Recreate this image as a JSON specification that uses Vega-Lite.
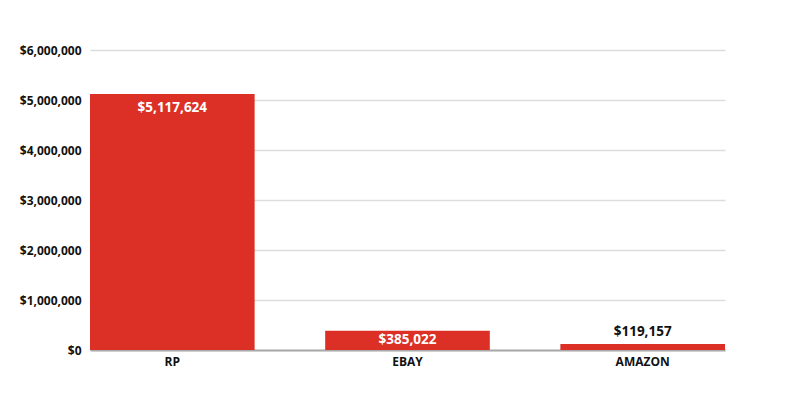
{
  "$schema": "https://vega.github.io/schema/vega-lite/v6.json",
  "autosize": {"type": "none"},
  "padding": {"left": 90, "top": 50, "right": 75, "bottom": 50},
  "width": 635,
  "height": 300,
  "background": "white",
  "view": {"stroke": null},
  "data": {"values": [
    {"channel": "RP", "sales": 5117624},
    {"channel": "EBAY", "sales": 385022},
    {"channel": "AMAZON", "sales": 119157}
  ]},
  "encoding": {
    "x": {"field": "channel", "type": "nominal", "sort": null,
      "scale": {"paddingInner": 0.3, "paddingOuter": 0},
      "axis": {"title": null, "labelAngle": 0, "ticks": false, "domainColor": "#aaaaaa", "domainWidth": 2,
        "labelFont": "Open Sans", "labelFontWeight": "bold", "labelFontSize": 12, "labelColor": "#111111", "labelPadding": 6}},
    "y": {"field": "sales", "type": "quantitative",
      "scale": {"domain": [0, 6000000]},
      "axis": {"title": null, "values": [0, 1000000, 2000000, 3000000, 4000000, 5000000, 6000000], "format": "$,.0f",
        "domain": false, "ticks": false, "gridColor": "#dddddd", "gridWidth": 1.5,
        "labelFont": "Open Sans", "labelFontWeight": "bold", "labelFontSize": 12, "labelColor": "#111111", "labelPadding": 9}}
  },
  "layer": [
    {"mark": {"type": "bar", "color": "#dc3027"}},
    {"transform": [{"filter": "datum.sales > 1000000"}],
     "mark": {"type": "text", "baseline": "middle", "dy": 14, "color": "white", "font": "Open Sans", "fontWeight": "bold", "fontSize": 13.5},
     "encoding": {"text": {"field": "sales", "type": "quantitative", "format": "$,.0f"}}},
    {"transform": [{"filter": "datum.sales > 200000 && datum.sales <= 1000000"}],
     "mark": {"type": "text", "baseline": "middle", "dy": 9.5, "color": "white", "font": "Open Sans", "fontWeight": "bold", "fontSize": 13.5},
     "encoding": {"text": {"field": "sales", "type": "quantitative", "format": "$,.0f"}}},
    {"transform": [{"filter": "datum.sales <= 200000"}],
     "mark": {"type": "text", "baseline": "bottom", "dy": -5, "color": "#111111", "font": "Open Sans", "fontWeight": "bold", "fontSize": 13.5},
     "encoding": {"text": {"field": "sales", "type": "quantitative", "format": "$,.0f"}}}
  ]
}
